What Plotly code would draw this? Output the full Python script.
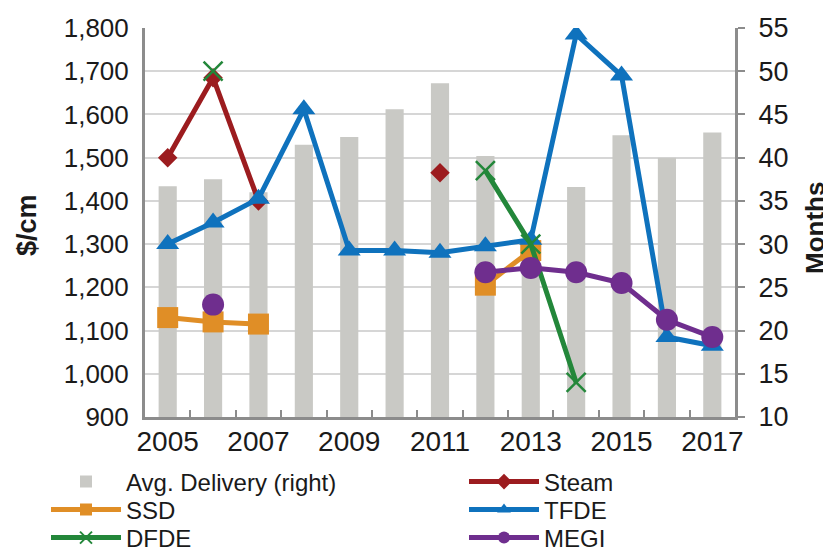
import plotly.graph_objects as go

years = list(range(2005, 2018))
delivery_months = [36.7, 37.5, 36.0, 41.5, 42.4, 45.6, 48.6, 40.2, 30.0, 36.6, 42.6, 40.0, 42.9]
steam = [1500, 1685, 1400, None, None, None, 1465, None, None, None, None, None, None]
ssd = [1130, 1120, 1115, None, None, None, None, 1205, 1285, None, None, None, None]
tfde = [1300, 1350, 1405, 1612, 1285, 1285, 1280, 1295, 1310, 1785, 1690, 1085, 1065]
dfde = [None, 1700, None, None, None, None, None, 1470, 1300, 980, None, None, None]
megi = [None, 1160, None, None, None, None, None, 1235, 1245, 1235, 1210, 1125, 1085]
left_ticks = list(range(900, 1801, 100))
right_ticks = list(range(10, 56, 5))
x_labels = list(range(2005, 2018, 2))

FONT = "Liberation Sans, Arial, sans-serif"
TXT = "#1a1a1a"
AX = "#8c8c8c"
OFF = 8            # page body margin
W, H = 831 - OFF, 553 - OFF
ML, MT, PW, PH = 145 - OFF, 28 - OFF, 590, 389

# legend slots in window pixels: (legend id, left x, center y)
slots = {
    "legend":  (46, 482), "legend2": (464, 482),
    "legend3": (46, 510), "legend4": (464, 510),
    "legend5": (46, 538), "legend6": (464, 538),
}

fig = go.Figure()
fig.add_trace(go.Bar(x=years, y=delivery_months, name="Avg. Delivery (right)",
                     marker=dict(color="#c9c9c5", line=dict(width=0)), width=0.4,
                     yaxis="y", legend="legend"))

def line(name, vals, color, symbol, size, leg, mlw=0):
    fig.add_trace(go.Scatter(x=years, y=vals, name=name, mode="lines+markers",
                             connectgaps=False, yaxis="y2", legend=leg,
                             line=dict(color=color, width=5),
                             marker=dict(symbol=symbol, size=size, color=color,
                                         line=dict(width=mlw, color=color))))

line("Steam", steam, "#9c1c1f", "diamond", 15, "legend2")
line("SSD", ssd, "#e08e26", "square", 21, "legend3")
line("TFDE", tfde, "#0f72bd", "triangle-up", 20, "legend4")
line("DFDE", dfde, "#23873a", "x-thin", 19, "legend5", 2.5)
line("MEGI", megi, "#6f2e8e", "circle", 22, "legend6")

legends = {}
for lid, (px, py) in slots.items():
    legends[lid] = dict(xref="container", yref="container",
                        x=(px - OFF) / W, y=1 - (py - OFF) / H,
                        xanchor="left", yanchor="middle",
                        itemwidth=70, itemsizing="constant",
                        font=dict(family=FONT, size=24, color=TXT),
                        bgcolor="rgba(0,0,0,0)", borderwidth=0)

def px_to_paper_x(px):
    return (px - OFF - ML) / PW

def px_to_paper_y(py):
    return 1 - (py - OFF - MT) / PH

fig.update_layout(
    width=W, height=H,
    margin=dict(l=ML, r=W - ML - PW, t=MT, b=H - MT - PH, autoexpand=False),
    paper_bgcolor="white", plot_bgcolor="white",
    font=dict(family=FONT, size=26, color=TXT),
    showlegend=True,
    xaxis=dict(range=[2004.5, 2017.5], tickvals=x_labels, ticktext=[str(v) for v in x_labels],
               automargin=False,
               showgrid=False, zeroline=False, showline=True, linecolor=AX, linewidth=3,
               ticks="", ticklabelstandoff=-3,
               minor=dict(tickmode="array", tickvals=[y + 0.5 for y in years[:-1]],
                          ticks="inside", ticklen=7,
                          tickcolor=AX, tickwidth=2, showgrid=False),
               tickfont=dict(family=FONT, size=28, color=TXT)),
    yaxis=dict(side="right", range=[10, 55], tickvals=right_ticks, automargin=False,
               showgrid=True, gridcolor="#d6d6d6", gridwidth=2, zeroline=False,
               showline=True, linecolor=AX, linewidth=3,
               ticks="outside", ticklen=7, tickcolor=AX, tickwidth=2,
               ticklabelstandoff=8,
               tickfont=dict(family=FONT, size=27, color=TXT)),
    yaxis2=dict(side="left", overlaying="y", range=[900, 1800], tickvals=left_ticks,
                automargin=False,
                tickformat=",d", showgrid=False, zeroline=False,
                showline=True, linecolor=AX, linewidth=3, ticks="",
                ticklabelstandoff=8,
                tickfont=dict(family=FONT, size=26, color=TXT)),
    annotations=[
        dict(text="<b>$/cm</b>", xref="paper", yref="paper",
             x=px_to_paper_x(27), y=px_to_paper_y(225), textangle=-90,
             xanchor="center", yanchor="middle", showarrow=False,
             font=dict(family=FONT, size=27, color=TXT)),
        dict(text="<b>Months</b>", xref="paper", yref="paper",
             x=px_to_paper_x(815), y=px_to_paper_y(228), textangle=-90,
             xanchor="center", yanchor="middle", showarrow=False,
             font=dict(family=FONT, size=26, color=TXT)),
    ],
    **legends,
)

fig.write_html("out.html")
